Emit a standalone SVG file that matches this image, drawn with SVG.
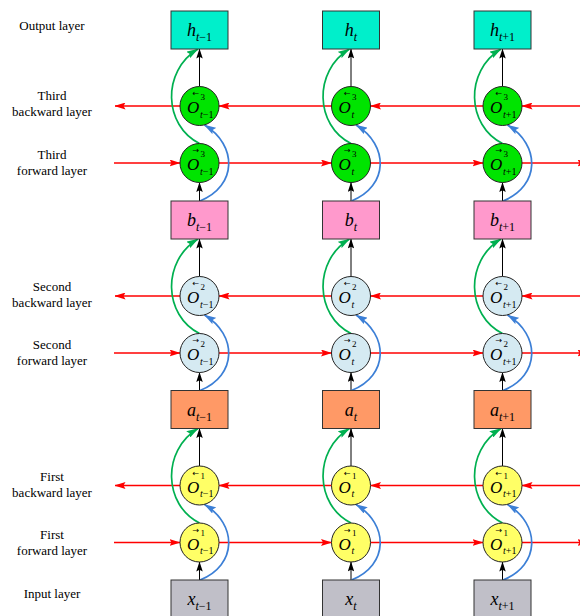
<svg xmlns="http://www.w3.org/2000/svg" width="580" height="616" viewBox="0 0 580 616">
  <style>
    .lbl { font-family: "Liberation Serif", "Times New Roman", serif; font-size: 13px; text-anchor: middle; fill: #000; }
    .box { stroke: #333; stroke-width: 1; }
    .nd { stroke: #222; stroke-width: 1; }
    .bt { font-family: "Liberation Serif", "Times New Roman", serif; font-size: 18px; text-anchor: middle; fill: #000; }
    .bt .s { font-size: 12px; }
    .it { font-style: italic; }
    .ot { font-family: "Liberation Serif", "Times New Roman", serif; fill: #000; }
    .ot .o { font-size: 17px; font-style: italic; }
    .ot .acc { font-family: "DejaVu Sans", sans-serif; font-size: 8px; font-style: normal; }
    .ot .sup { font-size: 9px; }
    .ot .sub { font-size: 10px; }
    .h { fill: #00EFCB; }
    .b { fill: #FF99CC; }
    .a { fill: #FF9966; }
    .x { fill: #C0BFC8; }
    .g3 { fill: #00E400; }
    .g2 { fill: #D5EAF2; }
    .g1 { fill: #FFFF66; }
    .red { stroke: #FF0000; stroke-width: 1.3; fill: none; marker-end: url(#ar-red); }
    .blk { stroke: #000; stroke-width: 1; fill: none; marker-end: url(#ar-blk); }
    .grn { stroke: #00B050; stroke-width: 1.7; fill: none; marker-end: url(#ar-grn); }
    .blu { stroke: #3C7FD6; stroke-width: 1.7; fill: none; marker-end: url(#ar-blu); }
  </style>
  <defs>
    <marker id="ar-red" viewBox="0 0 11 7" refX="10.5" refY="3.5" markerWidth="11" markerHeight="7" markerUnits="userSpaceOnUse" orient="auto">
      <path d="M0,0 L11,3.5 L0,7 L2,3.5 Z" fill="#FF0000"/>
    </marker>
    <marker id="ar-blk" viewBox="0 0 10 6.5" refX="9.5" refY="3.25" markerWidth="10" markerHeight="6.5" markerUnits="userSpaceOnUse" orient="auto">
      <path d="M0,0 L10,3.25 L0,6.5 L1.8,3.25 Z" fill="#000"/>
    </marker>
    <marker id="ar-grn" viewBox="0 0 12 7.5" refX="11.5" refY="3.75" markerWidth="12" markerHeight="7.5" markerUnits="userSpaceOnUse" orient="auto">
      <path d="M0,0 L12,3.75 L0,7.5 L2,3.75 Z" fill="#00B050"/>
    </marker>
    <marker id="ar-blu" viewBox="0 0 12 7.5" refX="11.5" refY="3.75" markerWidth="12" markerHeight="7.5" markerUnits="userSpaceOnUse" orient="auto">
      <path d="M0,0 L12,3.75 L0,7.5 L2,3.75 Z" fill="#3C7FD6"/>
    </marker>
  </defs>

  <!-- layer names -->
  <g id="labels">
    <text class="lbl" x="52" y="30">Output layer</text>
    <text class="lbl" x="52" y="100">Third</text>
    <text class="lbl" x="52" y="116">backward layer</text>
    <text class="lbl" x="52" y="159">Third</text>
    <text class="lbl" x="52" y="174.5">forward layer</text>
    <text class="lbl" x="52" y="290.5">Second</text>
    <text class="lbl" x="52" y="306.5">backward layer</text>
    <text class="lbl" x="52" y="349">Second</text>
    <text class="lbl" x="52" y="364.5">forward layer</text>
    <text class="lbl" x="52" y="481">First</text>
    <text class="lbl" x="52" y="497">backward layer</text>
    <text class="lbl" x="52" y="539">First</text>
    <text class="lbl" x="52" y="555">forward layer</text>
    <text class="lbl" x="52" y="598">Input layer</text>
  </g>

  <g id="connectors">
    <!-- backward (right-to-left) recurrent lines -->
    <path class="red" d="M580,106 H522"/>
    <path class="red" d="M483,106 H370.5"/>
    <path class="red" d="M331.5,106 H219"/>
    <path class="red" d="M180,106 H115"/>
    <path class="red" d="M580,296 H522"/>
    <path class="red" d="M483,296 H370.5"/>
    <path class="red" d="M331.5,296 H219"/>
    <path class="red" d="M180,296 H115"/>
    <path class="red" d="M580,485.5 H522"/>
    <path class="red" d="M483,485.5 H370.5"/>
    <path class="red" d="M331.5,485.5 H219"/>
    <path class="red" d="M180,485.5 H115"/>
    <!-- forward (left-to-right) recurrent lines -->
    <path class="red" d="M114,163 H180"/>
    <path class="red" d="M219,163 H331.5"/>
    <path class="red" d="M370.5,163 H483"/>
    <path class="red" d="M522,163 H588"/>
    <path class="red" d="M114,353 H180"/>
    <path class="red" d="M219,353 H331.5"/>
    <path class="red" d="M370.5,353 H483"/>
    <path class="red" d="M522,353 H588"/>
    <path class="red" d="M114,542.5 H180"/>
    <path class="red" d="M219,542.5 H331.5"/>
    <path class="red" d="M370.5,542.5 H483"/>
    <path class="red" d="M522,542.5 H588"/>

    <!-- vertical feeds -->
    <path class="blk" d="M199.5,86.5 V49"/>
    <path class="blk" d="M199.5,201 V182.5"/>
    <path class="blk" d="M199.5,276.5 V239"/>
    <path class="blk" d="M199.5,390.5 V372.5"/>
    <path class="blk" d="M199.5,466 V428.5"/>
    <path class="blk" d="M199.5,580 V562"/>
    <path class="blk" d="M351,86.5 V49"/>
    <path class="blk" d="M351,201 V182.5"/>
    <path class="blk" d="M351,276.5 V239"/>
    <path class="blk" d="M351,390.5 V372.5"/>
    <path class="blk" d="M351,466 V428.5"/>
    <path class="blk" d="M351,580 V562"/>
    <path class="blk" d="M502.5,86.5 V49"/>
    <path class="blk" d="M502.5,201 V182.5"/>
    <path class="blk" d="M502.5,276.5 V239"/>
    <path class="blk" d="M502.5,390.5 V372.5"/>
    <path class="blk" d="M502.5,466 V428.5"/>
    <path class="blk" d="M502.5,580 V562"/>

    <!-- forward state to layer output (green) -->
    <path class="grn" d="M199.5,143.5 C163.5,125.5 161.5,71 198,49"/>
    <path class="grn" d="M199.5,333.5 C163.5,315.5 161.5,261 198,239"/>
    <path class="grn" d="M199.5,523 C163.5,505 161.5,450.5 198,428.5"/>
    <path class="grn" d="M351,143.5 C315,125.5 313,71 349.5,49"/>
    <path class="grn" d="M351,333.5 C315,315.5 313,261 349.5,239"/>
    <path class="grn" d="M351,523 C315,505 313,450.5 349.5,428.5"/>
    <path class="grn" d="M502.5,143.5 C466.5,125.5 464.5,71 501,49"/>
    <path class="grn" d="M502.5,333.5 C466.5,315.5 464.5,261 501,239"/>
    <path class="grn" d="M502.5,523 C466.5,505 464.5,450.5 501,428.5"/>

    <!-- layer input to backward state (blue) -->
    <path class="blu" d="M200,201 C237.5,186 237.5,145 204.5,125"/>
    <path class="blu" d="M200,390.5 C237.5,375.5 237.5,335 204.5,315"/>
    <path class="blu" d="M200,580 C237.5,565 237.5,524.5 204.5,504.5"/>
    <path class="blu" d="M351.5,201 C389,186 389,145 356,125"/>
    <path class="blu" d="M351.5,390.5 C389,375.5 389,335 356,315"/>
    <path class="blu" d="M351.5,580 C389,565 389,524.5 356,504.5"/>
    <path class="blu" d="M503,201 C540.5,186 540.5,145 507.5,125"/>
    <path class="blu" d="M503,390.5 C540.5,375.5 540.5,335 507.5,315"/>
    <path class="blu" d="M503,580 C540.5,565 540.5,524.5 507.5,504.5"/>
  </g>

  <!-- output layer -->
  <g id="h1"><rect class="box h" x="171" y="11" width="57" height="38"/><text class="bt" x="199.5" y="36"><tspan class="it">h</tspan><tspan class="s" dy="5"><tspan class="it">t</tspan>−1</tspan></text></g>
  <g id="h2"><rect class="box h" x="322.5" y="11" width="57" height="38"/><text class="bt" x="351" y="36"><tspan class="it">h</tspan><tspan class="s it" dy="5">t</tspan></text></g>
  <g id="h3"><rect class="box h" x="474" y="11" width="57" height="38"/><text class="bt" x="502.5" y="36"><tspan class="it">h</tspan><tspan class="s" dy="5"><tspan class="it">t</tspan>+1</tspan></text></g>

  <!-- third backward layer -->
  <g id="o3b1"><circle class="nd g3" cx="199.5" cy="106" r="19.5"/><text class="ot"><tspan class="o" x="187" y="113">O</tspan><tspan class="acc" x="192.5" y="96">←</tspan><tspan class="sup" x="200.5" y="99.5">3</tspan><tspan class="sub" x="200" y="117.5"><tspan class="it">t</tspan>−1</tspan></text></g>
  <g id="o3b2"><circle class="nd g3" cx="351" cy="106" r="19.5"/><text class="ot"><tspan class="o" x="338.5" y="113">O</tspan><tspan class="acc" x="344" y="96">←</tspan><tspan class="sup" x="352" y="99.5">3</tspan><tspan class="sub it" x="351.5" y="117.5">t</tspan></text></g>
  <g id="o3b3"><circle class="nd g3" cx="502.5" cy="106" r="19.5"/><text class="ot"><tspan class="o" x="490" y="113">O</tspan><tspan class="acc" x="495.5" y="96">←</tspan><tspan class="sup" x="503.5" y="99.5">3</tspan><tspan class="sub" x="503" y="117.5"><tspan class="it">t</tspan>+1</tspan></text></g>

  <!-- third forward layer -->
  <g id="o3f1"><circle class="nd g3" cx="199.5" cy="163" r="19.5"/><text class="ot"><tspan class="o" x="187" y="170">O</tspan><tspan class="acc" x="192.5" y="153">→</tspan><tspan class="sup" x="200.5" y="156.5">3</tspan><tspan class="sub" x="200" y="174.5"><tspan class="it">t</tspan>−1</tspan></text></g>
  <g id="o3f2"><circle class="nd g3" cx="351" cy="163" r="19.5"/><text class="ot"><tspan class="o" x="338.5" y="170">O</tspan><tspan class="acc" x="344" y="153">→</tspan><tspan class="sup" x="352" y="156.5">3</tspan><tspan class="sub it" x="351.5" y="174.5">t</tspan></text></g>
  <g id="o3f3"><circle class="nd g3" cx="502.5" cy="163" r="19.5"/><text class="ot"><tspan class="o" x="490" y="170">O</tspan><tspan class="acc" x="495.5" y="153">→</tspan><tspan class="sup" x="503.5" y="156.5">3</tspan><tspan class="sub" x="503" y="174.5"><tspan class="it">t</tspan>+1</tspan></text></g>

  <!-- second block output -->
  <g id="b1"><rect class="box b" x="171" y="201" width="57" height="38"/><text class="bt" x="199.5" y="226"><tspan class="it">b</tspan><tspan class="s" dy="5"><tspan class="it">t</tspan>−1</tspan></text></g>
  <g id="b2"><rect class="box b" x="322.5" y="201" width="57" height="38"/><text class="bt" x="351" y="226"><tspan class="it">b</tspan><tspan class="s it" dy="5">t</tspan></text></g>
  <g id="b3"><rect class="box b" x="474" y="201" width="57" height="38"/><text class="bt" x="502.5" y="226"><tspan class="it">b</tspan><tspan class="s" dy="5"><tspan class="it">t</tspan>+1</tspan></text></g>

  <!-- second backward layer -->
  <g id="o2b1"><circle class="nd g2" cx="199.5" cy="296" r="19.5"/><text class="ot"><tspan class="o" x="187" y="303">O</tspan><tspan class="acc" x="192.5" y="286">←</tspan><tspan class="sup" x="200.5" y="289.5">2</tspan><tspan class="sub" x="200" y="307.5"><tspan class="it">t</tspan>−1</tspan></text></g>
  <g id="o2b2"><circle class="nd g2" cx="351" cy="296" r="19.5"/><text class="ot"><tspan class="o" x="338.5" y="303">O</tspan><tspan class="acc" x="344" y="286">←</tspan><tspan class="sup" x="352" y="289.5">2</tspan><tspan class="sub it" x="351.5" y="307.5">t</tspan></text></g>
  <g id="o2b3"><circle class="nd g2" cx="502.5" cy="296" r="19.5"/><text class="ot"><tspan class="o" x="490" y="303">O</tspan><tspan class="acc" x="495.5" y="286">←</tspan><tspan class="sup" x="503.5" y="289.5">2</tspan><tspan class="sub" x="503" y="307.5"><tspan class="it">t</tspan>+1</tspan></text></g>

  <!-- second forward layer -->
  <g id="o2f1"><circle class="nd g2" cx="199.5" cy="353" r="19.5"/><text class="ot"><tspan class="o" x="187" y="360">O</tspan><tspan class="acc" x="192.5" y="343">→</tspan><tspan class="sup" x="200.5" y="346.5">2</tspan><tspan class="sub" x="200" y="364.5"><tspan class="it">t</tspan>−1</tspan></text></g>
  <g id="o2f2"><circle class="nd g2" cx="351" cy="353" r="19.5"/><text class="ot"><tspan class="o" x="338.5" y="360">O</tspan><tspan class="acc" x="344" y="343">→</tspan><tspan class="sup" x="352" y="346.5">2</tspan><tspan class="sub it" x="351.5" y="364.5">t</tspan></text></g>
  <g id="o2f3"><circle class="nd g2" cx="502.5" cy="353" r="19.5"/><text class="ot"><tspan class="o" x="490" y="360">O</tspan><tspan class="acc" x="495.5" y="343">→</tspan><tspan class="sup" x="503.5" y="346.5">2</tspan><tspan class="sub" x="503" y="364.5"><tspan class="it">t</tspan>+1</tspan></text></g>

  <!-- first block output -->
  <g id="a1"><rect class="box a" x="171" y="390.5" width="57" height="38"/><text class="bt" x="199.5" y="415.5"><tspan class="it">a</tspan><tspan class="s" dy="5"><tspan class="it">t</tspan>−1</tspan></text></g>
  <g id="a2"><rect class="box a" x="322.5" y="390.5" width="57" height="38"/><text class="bt" x="351" y="415.5"><tspan class="it">a</tspan><tspan class="s it" dy="5">t</tspan></text></g>
  <g id="a3"><rect class="box a" x="474" y="390.5" width="57" height="38"/><text class="bt" x="502.5" y="415.5"><tspan class="it">a</tspan><tspan class="s" dy="5"><tspan class="it">t</tspan>+1</tspan></text></g>

  <!-- first backward layer -->
  <g id="o1b1"><circle class="nd g1" cx="199.5" cy="485.5" r="19.5"/><text class="ot"><tspan class="o" x="187" y="492.5">O</tspan><tspan class="acc" x="192.5" y="475.5">←</tspan><tspan class="sup" x="200.5" y="479">1</tspan><tspan class="sub" x="200" y="497"><tspan class="it">t</tspan>−1</tspan></text></g>
  <g id="o1b2"><circle class="nd g1" cx="351" cy="485.5" r="19.5"/><text class="ot"><tspan class="o" x="338.5" y="492.5">O</tspan><tspan class="acc" x="344" y="475.5">←</tspan><tspan class="sup" x="352" y="479">1</tspan><tspan class="sub it" x="351.5" y="497">t</tspan></text></g>
  <g id="o1b3"><circle class="nd g1" cx="502.5" cy="485.5" r="19.5"/><text class="ot"><tspan class="o" x="490" y="492.5">O</tspan><tspan class="acc" x="495.5" y="475.5">←</tspan><tspan class="sup" x="503.5" y="479">1</tspan><tspan class="sub" x="503" y="497"><tspan class="it">t</tspan>+1</tspan></text></g>

  <!-- first forward layer -->
  <g id="o1f1"><circle class="nd g1" cx="199.5" cy="542.5" r="19.5"/><text class="ot"><tspan class="o" x="187" y="549.5">O</tspan><tspan class="acc" x="192.5" y="532.5">→</tspan><tspan class="sup" x="200.5" y="536">1</tspan><tspan class="sub" x="200" y="554"><tspan class="it">t</tspan>−1</tspan></text></g>
  <g id="o1f2"><circle class="nd g1" cx="351" cy="542.5" r="19.5"/><text class="ot"><tspan class="o" x="338.5" y="549.5">O</tspan><tspan class="acc" x="344" y="532.5">→</tspan><tspan class="sup" x="352" y="536">1</tspan><tspan class="sub it" x="351.5" y="554">t</tspan></text></g>
  <g id="o1f3"><circle class="nd g1" cx="502.5" cy="542.5" r="19.5"/><text class="ot"><tspan class="o" x="490" y="549.5">O</tspan><tspan class="acc" x="495.5" y="532.5">→</tspan><tspan class="sup" x="503.5" y="536">1</tspan><tspan class="sub" x="503" y="554"><tspan class="it">t</tspan>+1</tspan></text></g>

  <!-- input layer -->
  <g id="x1"><rect class="box x" x="171" y="580" width="57" height="38"/><text class="bt" x="199.5" y="605"><tspan class="it">x</tspan><tspan class="s" dy="5"><tspan class="it">t</tspan>−1</tspan></text></g>
  <g id="x2"><rect class="box x" x="322.5" y="580" width="57" height="38"/><text class="bt" x="351" y="605"><tspan class="it">x</tspan><tspan class="s it" dy="5">t</tspan></text></g>
  <g id="x3"><rect class="box x" x="474" y="580" width="57" height="38"/><text class="bt" x="502.5" y="605"><tspan class="it">x</tspan><tspan class="s" dy="5"><tspan class="it">t</tspan>+1</tspan></text></g>
</svg>
